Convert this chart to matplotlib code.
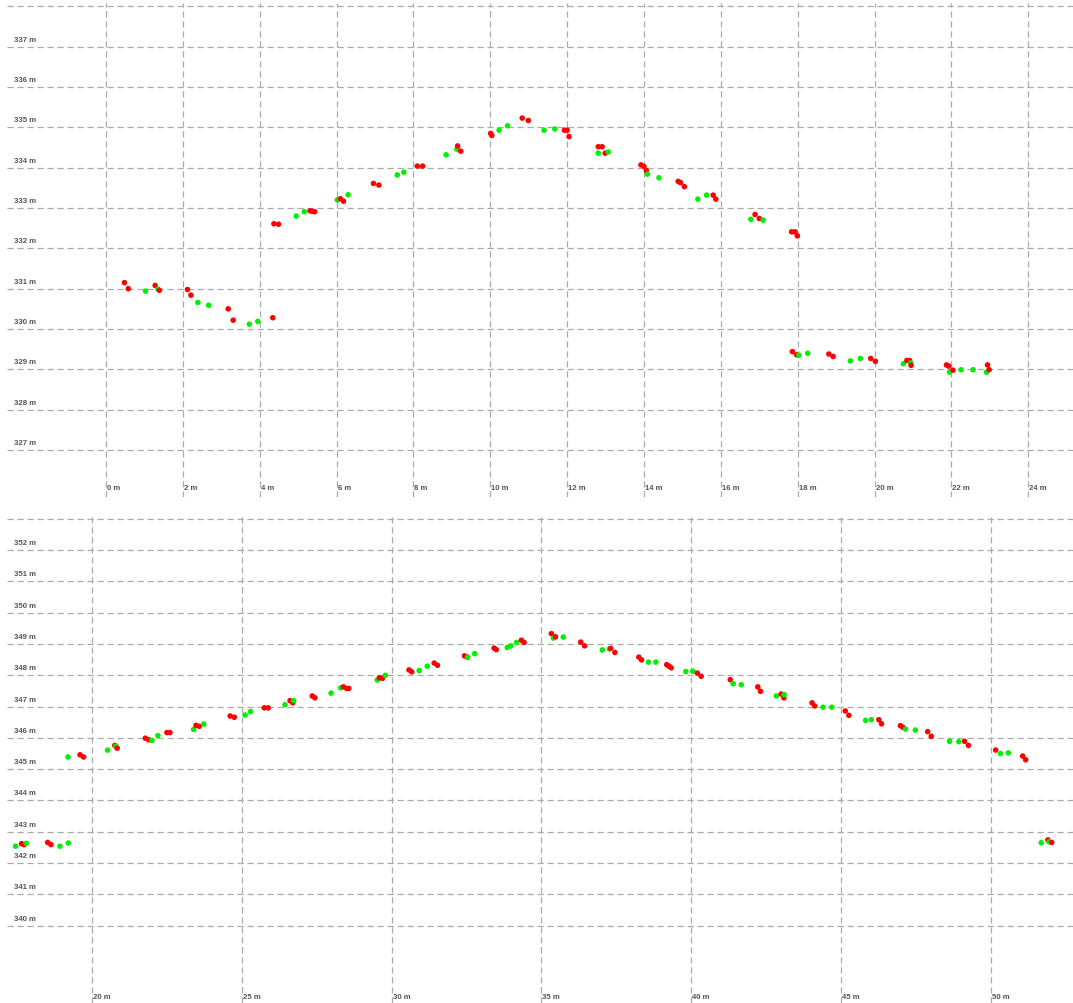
import matplotlib
matplotlib.use("Agg")
import matplotlib.pyplot as plt
import matplotlib.transforms as mtransforms
import numpy as np

# upper profile (distance m, elevation m)
upper_red_x = [0.48, 0.58, 1.28, 1.39, 2.12, 2.21, 3.18, 3.31, 4.34, 4.37, 4.49,
               5.31, 5.37, 5.43, 6.10, 6.18, 6.96, 7.10, 8.10, 8.24, 9.15, 9.23,
               10.01, 10.04, 10.83, 10.99, 11.93, 12.00, 12.05, 12.81, 12.91, 12.99,
               13.92, 14.00, 14.06, 14.89, 14.95, 15.05, 15.80, 15.87, 16.89, 17.00,
               17.84, 17.93, 17.99, 17.86, 17.97, 18.81, 18.92, 19.90, 20.02, 20.84,
               20.91, 20.95, 21.87, 21.93, 22.04, 22.94, 22.98]
upper_red_y = [331.15, 331.00, 331.08, 330.96, 330.98, 330.84, 330.50, 330.22, 330.28,
               332.61, 332.60, 332.93, 332.92, 332.91, 333.23, 333.17, 333.61, 333.57,
               334.04, 334.04, 334.54, 334.41, 334.85, 334.80, 335.23, 335.17, 334.93,
               334.93, 334.77, 334.52, 334.52, 334.36, 334.07, 334.03, 333.93, 333.66,
               333.63, 333.53, 333.32, 333.22, 332.84, 332.74, 332.41, 332.41, 332.31,
               329.44, 329.36, 329.38, 329.32, 329.27, 329.20, 329.22, 329.22, 329.10,
               329.11, 329.08, 328.98, 329.11, 328.99]
upper_green_x = [1.03, 1.35, 2.39, 2.67, 3.73, 3.95, 4.95, 5.16, 6.02, 6.30, 7.58,
                 7.75, 8.85, 9.13, 10.23, 10.45, 11.40, 11.68, 12.81, 13.07, 14.09,
                 14.39, 15.40, 15.63, 16.78, 17.10, 18.03, 18.26, 19.37, 19.63, 20.75,
                 20.94, 21.95, 22.25, 22.56, 22.91]
upper_green_y = [330.94, 330.99, 330.66, 330.59, 330.12, 330.19, 332.80, 332.91, 333.20,
                 333.33, 333.82, 333.89, 334.32, 334.46, 334.93, 335.04, 334.93, 334.96,
                 334.36, 334.39, 333.84, 333.75, 333.22, 333.32, 332.72, 332.70, 329.35,
                 329.40, 329.21, 329.27, 329.14, 329.16, 328.93, 328.99, 328.99, 328.93]

# lower profile
lower_red_x = [17.65, 17.73, 18.52, 18.63, 19.60, 19.72, 20.76, 20.84, 21.78, 21.89,
               22.50, 22.60, 23.47, 23.58, 24.61, 24.75, 25.75, 25.88, 26.61, 26.70,
               27.35, 27.44, 28.39, 28.50, 28.57, 29.59, 29.69, 30.58, 30.67, 31.42,
               31.53, 32.43, 32.53, 33.42, 33.49, 34.33, 34.42, 35.33, 35.47, 36.31,
               36.44, 37.31, 37.45, 38.25, 38.34, 39.18, 39.26, 39.33, 40.20, 40.33,
               41.30, 42.22, 42.31, 43.00, 43.09, 44.03, 44.12, 45.14, 45.26, 46.26,
               46.35, 46.98, 47.06, 47.89, 48.01, 49.12, 49.25, 50.16, 51.06, 51.16,
               51.90, 52.03]
lower_red_y = [342.62, 342.59, 342.66, 342.59, 345.46, 345.39, 345.76, 345.67, 345.99,
               345.94, 346.17, 346.17, 346.40, 346.37, 346.70, 346.66, 346.96, 346.96,
               347.19, 347.12, 347.34, 347.28, 347.63, 347.58, 347.58, 347.92, 347.90,
               348.17, 348.11, 348.39, 348.32, 348.62, 348.58, 348.87, 348.82, 349.12,
               349.05, 349.33, 349.23, 349.06, 348.94, 348.86, 348.73, 348.58, 348.49,
               348.34, 348.29, 348.24, 348.07, 347.97, 347.86, 347.63, 347.49, 347.40,
               347.28, 347.12, 347.02, 346.86, 346.72, 346.58, 346.45, 346.39, 346.34,
               346.20, 346.05, 345.89, 345.76, 345.61, 345.42, 345.30, 342.74, 342.66]
lower_green_x = [17.45, 17.80, 18.93, 19.21, 19.20, 20.52, 20.80, 22.00, 22.20, 23.39,
                 23.73, 25.11, 25.29, 26.44, 26.73, 27.98, 28.30, 29.52, 29.79, 30.92,
                 31.19, 32.54, 32.77, 33.86, 33.98, 34.17, 35.40, 35.73, 37.03, 37.27,
                 38.57, 38.82, 39.82, 40.05, 41.40, 41.67, 42.84, 43.10, 44.40, 44.69,
                 45.82, 46.01, 47.15, 47.48, 48.62, 48.93, 50.32, 50.58, 51.68, 51.94]
lower_green_y = [342.54, 342.63, 342.54, 342.64, 345.39, 345.61, 345.74, 345.92, 346.07,
                 346.27, 346.44, 346.73, 346.84, 347.06, 347.19, 347.43, 347.60, 347.85,
                 348.00, 348.15, 348.29, 348.58, 348.69, 348.89, 348.94, 349.05, 349.19,
                 349.22, 348.81, 348.84, 348.42, 348.42, 348.12, 348.13, 347.73, 347.70,
                 347.34, 347.38, 346.98, 346.98, 346.56, 346.58, 346.28, 346.25, 345.89,
                 345.88, 345.50, 345.52, 342.65, 342.68]

upper_xticks = list(range(0, 25, 2))
upper_ygrid = list(range(327, 339))
lower_xticks = list(range(20, 51, 5))
lower_ygrid = list(range(340, 354))

RED = "#ff0000"
GREEN = "#00f000"
GRID = "#ababab"
LABEL = "#555555"
DASH = (0, (5, 3))

W, H = 1073, 1004
fig = plt.figure(figsize=(W / 100, H / 100), dpi=100)


def panel(top, bottom, xlim, ylim, rx, ry, gx, gy, xticks, ygrid, xlab_px):
    # top/bottom are pixel rows of the figure
    ax = fig.add_axes([7 / W, 1 - bottom / H, 1 - 7 / W, (bottom - top) / H])
    ax.set_xlim(*xlim)
    ax.set_ylim(*ylim)
    ax.set_axis_off()
    for v in ygrid:
        ax.axhline(v, color=GRID, lw=0.9, ls=DASH, zorder=1)
    for v in xticks:
        ax.axvline(v, color=GRID, lw=0.9, ls=DASH, zorder=1)

    # interleave both series by distance so overlaps stack naturally
    xs = np.concatenate([rx, gx])
    ys = np.concatenate([ry, gy])
    cs = np.array([RED] * len(rx) + [GREEN] * len(gx))
    order = np.argsort(xs, kind="stable")
    ax.scatter(xs[order], ys[order], s=16, c=cs[order], linewidths=0, zorder=3)

    font = dict(fontsize=5.6, family="Liberation Sans", fontweight="bold",
                color=LABEL)
    ylab = mtransforms.offset_copy(
        mtransforms.blended_transform_factory(ax.transAxes, ax.transData),
        fig=fig, x=0, y=4, units="dots")
    for v in ygrid[:-1]:
        ax.text(0.0066, v, f"{v} m", transform=ylab, ha="left", va="bottom",
                **font)
    xlab = mtransforms.offset_copy(
        mtransforms.blended_transform_factory(ax.transData, ax.transAxes),
        fig=fig, x=1, y=0, units="dots")
    frac = (bottom - xlab_px) / (bottom - top)
    for v in xticks:
        ax.text(v, frac, f"{v} m", transform=xlab, ha="left", va="center",
                **font)
    return ax


panel(4, 498, (-2.576, 25.163), (325.835, 338.084),
      upper_red_x, upper_red_y, upper_green_x, upper_green_y,
      upper_xticks, upper_ygrid, 489)

panel(518, 1004, (17.163, 52.74), (337.53, 353.057),
      lower_red_x, lower_red_y, lower_green_x, lower_green_y,
      lower_xticks, lower_ygrid, 998)

fig.savefig("out.png", dpi=100, facecolor="white")
